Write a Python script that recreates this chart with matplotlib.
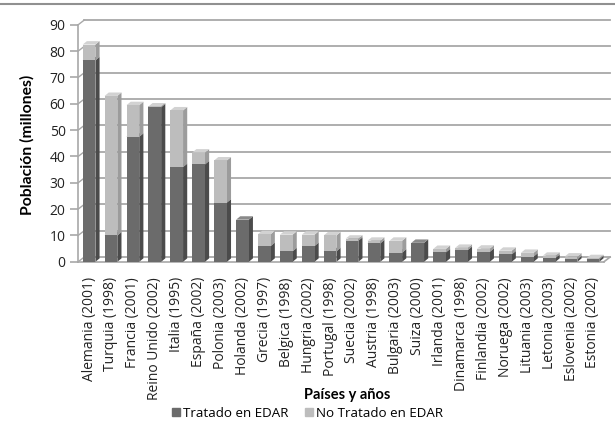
import matplotlib.pyplot as plt
from matplotlib.patches import Polygon
from matplotlib.lines import Line2D

plt.rcParams['font.family'] = ['Open Sans', 'DejaVu Sans']

# datos (millones de habitantes)
paises = ['Alemania (2001)', 'Turquia (1998)', 'Francia (2001)', 'Reino Unido (2002)',
          'Italia (1995)', 'España (2002)', 'Polonia (2003)', 'Holanda (2002)',
          'Grecia (1997)', 'Belgica (1998)', 'Hungria (2002)', 'Portugal (1998)',
          'Suecia (2002)', 'Austria (1998)', 'Bulgaria (2003)', 'Suiza (2000)',
          'Irlanda (2001)', 'Dinamarca (1998)', 'Finlandia (2002)', 'Noruega (2002)',
          'Lituania (2003)', 'Letonia (2003)', 'Eslovenia (2002)', 'Estonia (2002)']
tratado = [76.5, 10, 47.5, 58.7, 36, 37, 22.5, 16, 6, 4, 6, 4,
           8, 7, 3.5, 7.2, 3.6, 4.5, 3.8, 2.8, 2.0, 1.5, 1.0, 1.0]
no_tratado = [6, 53, 12, 0.3, 21.5, 4.5, 16, 0, 4.5, 6.3, 4.3, 6,
              0.8, 1, 4.5, 0, 1.3, 0.8, 1.2, 1.4, 1.4, 0.8, 1.0, 0.4]

yticks = list(range(0, 100, 10))

# colores
oscuro = ('#6b6b6b', '#4b4b4b', '#8a8a8a')   # frente, lado, tapa
claro = ('#bdbdbd', '#9c9c9c', '#d2d2d2')
gris = '#a8a8a8'

fig = plt.figure(figsize=(6.15, 4.25), dpi=100)
ax = fig.add_axes([0.127, 0.384, 0.855, 0.5576])
ax.set_xlim(-0.5, len(paises) - 0.5)
ax.set_ylim(0, 90)

# profundidad "3D"
dxb, dyb = 0.28, 1.8     # pared del fondo
dx, dy = 0.19, 1.3       # barras
ancho = 0.58


def caja(x0, y0, h, cols):
    x1 = x0 + ancho
    ax.add_patch(Polygon([(x0, y0), (x1, y0), (x1, y0 + h), (x0, y0 + h)],
                         closed=True, fc=cols[0], ec='none', zorder=5, clip_on=False))
    ax.add_patch(Polygon([(x1, y0), (x1 + dx, y0 + dy), (x1 + dx, y0 + h + dy), (x1, y0 + h)],
                         closed=True, fc=cols[1], ec='none', zorder=4, clip_on=False))
    ax.add_patch(Polygon([(x0, y0 + h), (x1, y0 + h), (x1 + dx, y0 + h + dy), (x0 + dx, y0 + h + dy)],
                         closed=True, fc=cols[2], ec='none', zorder=4, clip_on=False))


# rejilla y suelo
x_ini, x_fin = -0.5, len(paises) - 0.5
for v in yticks:
    ax.add_line(Line2D([x_ini + dxb, x_fin + dxb], [v + dyb, v + dyb], color=gris, lw=1.3,
                       zorder=1, clip_on=False))
    ax.add_line(Line2D([x_ini, x_ini + dxb], [v, v + dyb], color=gris, lw=1.0,
                       zorder=1, clip_on=False))
ax.add_line(Line2D([x_ini, x_fin], [0, 0], color=gris, lw=1.2, zorder=2, clip_on=False))
ax.add_line(Line2D([x_fin, x_fin + dxb], [0, dyb], color=gris, lw=1.2, zorder=2, clip_on=False))

for i in range(len(paises)):
    x0 = i - ancho / 2
    caja(x0, 0, tratado[i], oscuro)
    if no_tratado[i] > 0:
        caja(x0, tratado[i], no_tratado[i], claro)

for s in ['top', 'right', 'bottom']:
    ax.spines[s].set_visible(False)
ax.spines['left'].set_color(gris)
ax.spines['left'].set_linewidth(1.2)
ax.set_yticks(yticks)
ax.tick_params(axis='y', length=6, width=1.2, color=gris, labelsize=10, pad=3,
               labelcolor='#222222')
ax.set_xticks(range(len(paises)))
ax.set_xticklabels(paises, rotation=90, fontsize=10, color='#222222')
ax.tick_params(axis='x', length=0, pad=11)

fig.text(0.044, 0.659, 'Población (millones)', rotation=90, ha='center', va='center',
         fontsize=11.3, fontweight='bold', family='Lato')
fig.text(0.564, 0.071, 'Países y años', ha='center', va='center', fontsize=10.5,
         fontweight='bold', family='Lato')

h1 = Line2D([], [], marker='s', ls='none', color=oscuro[0], markersize=6)
h2 = Line2D([], [], marker='s', ls='none', color=claro[0], markersize=6)
fig.legend([h1, h2], ['Tratado en EDAR', 'No Tratado en EDAR'], loc='center',
           bbox_to_anchor=(0.498, 0.028), ncol=2, frameon=False, fontsize=9.6,
           handletextpad=0.05, columnspacing=1.0, handlelength=1.0, borderpad=0)

fig.add_artist(Line2D([0, 1], [0.99, 0.99], color='#909090', lw=1.5, transform=fig.transFigure))

fig.savefig('out.png', dpi=100)
